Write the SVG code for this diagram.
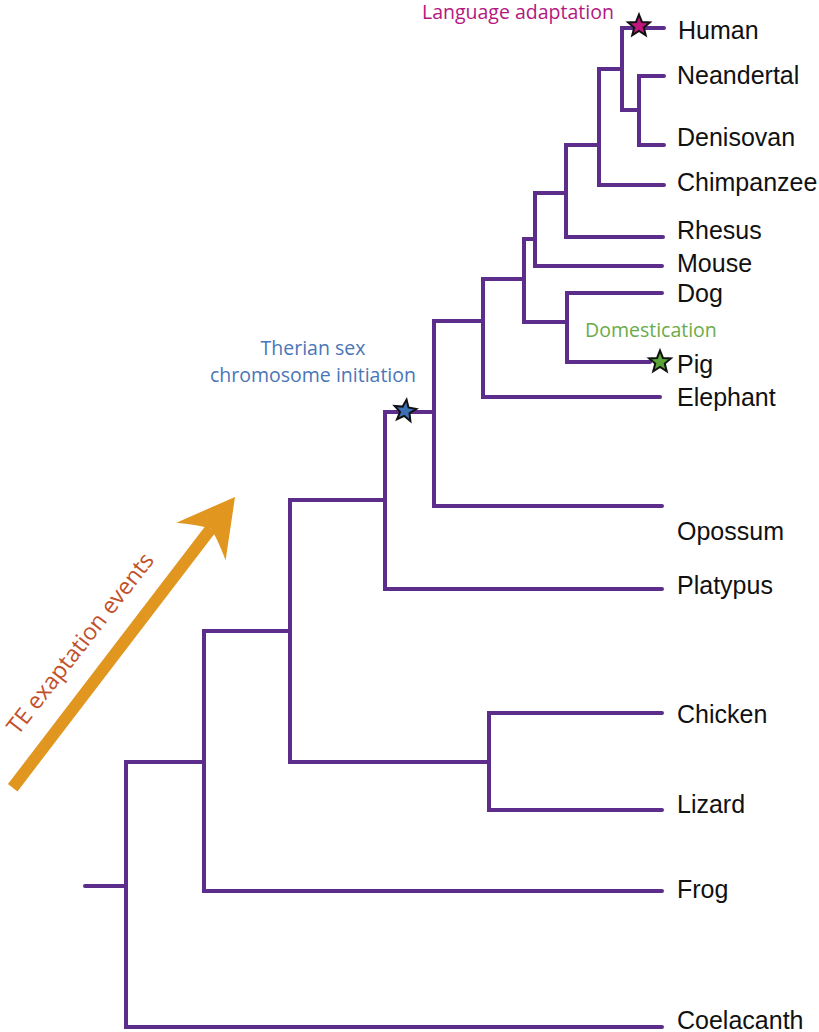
<svg xmlns="http://www.w3.org/2000/svg" xmlns:xlink="http://www.w3.org/1999/xlink" width="819" height="1032" viewBox="0 0 819 1032">
<style>
.br{fill:none;stroke:#5c2d8a;stroke-width:4;stroke-linecap:round;stroke-linejoin:miter}
.sp{font-family:"Liberation Sans",Arial,sans-serif;font-size:25px;fill:#111}
.ann{font-family:"Open Sans","Noto Sans",sans-serif;font-size:19.5px}
.star{stroke:#111;stroke-width:2;stroke-linejoin:miter}
</style>
<defs>
<path id="starShape" d="M0,-11.5 L2.94,-4.05 L10.94,-3.55 L4.76,1.55 L6.76,9.3 L0,5 L-6.76,9.3 L-4.76,1.55 L-10.94,-3.55 L-2.94,-4.05 Z"/>
</defs>
<rect width="819" height="1032" fill="#fff"/>
<g id="connectors">
<path class="br" d="M85,886 H126"/>
<path class="br" d="M662,1027 H126 V762 H204"/>
<path class="br" d="M662,891 H204 V631 H290"/>
<path class="br" d="M489,762 H290 V500 H385"/>
<path class="br" d="M662,713 H489 V810 H662"/>
<path class="br" d="M662,589 H385 V412 H434"/>
<path class="br" d="M662,506 H434 V321 H483"/>
<path class="br" d="M660,397 H483 V279 H524"/>
<path class="br" d="M567,322 H524 V239 H535"/>
<path class="br" d="M662,293 H567 V362 H650"/>
<path class="br" d="M662,266 H535 V193 H566"/>
<path class="br" d="M663,237 H566 V145 H599"/>
<path class="br" d="M664,185 H599 V69 H622"/>
<path class="br" d="M639,110 H622 V28 H664"/>
<path class="br" d="M664,76 H639 V145 H664"/>
</g>
<g id="node-human"><text class="sp" x="678" y="39">Human</text></g>
<g id="node-neandertal"><text class="sp" x="677" y="84">Neandertal</text></g>
<g id="node-denisovan"><text class="sp" x="677" y="146">Denisovan</text></g>
<g id="node-chimpanzee"><text class="sp" x="677" y="191">Chimpanzee</text></g>
<g id="node-rhesus"><text class="sp" x="677" y="239">Rhesus</text></g>
<g id="node-mouse"><text class="sp" x="677" y="272">Mouse</text></g>
<g id="node-dog"><text class="sp" x="677" y="302">Dog</text></g>
<g id="node-pig"><text class="sp" x="677" y="373">Pig</text></g>
<g id="node-elephant"><text class="sp" x="677" y="406">Elephant</text></g>
<g id="node-opossum"><text class="sp" x="677" y="540">Opossum</text></g>
<g id="node-platypus"><text class="sp" x="677" y="594">Platypus</text></g>
<g id="node-chicken"><text class="sp" x="677" y="723">Chicken</text></g>
<g id="node-lizard"><text class="sp" x="677" y="813">Lizard</text></g>
<g id="node-frog"><text class="sp" x="677" y="898">Frog</text></g>
<g id="node-coelacanth"><text class="sp" x="677" y="1029">Coelacanth</text></g>
<g id="event-language">
<use xlink:href="#starShape" class="star" fill="#c0177f" transform="translate(639,26)"/>
<text class="ann" x="422" y="19" fill="#b4177f">Language adaptation</text>
</g>
<g id="event-domestication">
<use xlink:href="#starShape" class="star" fill="#5ba336" transform="translate(660,362)"/>
<text class="ann" x="585" y="337" fill="#6aab4a">Domestication</text>
</g>
<g id="event-therian">
<use xlink:href="#starShape" class="star" fill="#3d6fb6" transform="translate(405,411) rotate(8)"/>
<text class="ann" x="313" y="355" text-anchor="middle" fill="#4a76b7">Therian sex</text>
<text class="ann" x="313" y="382" text-anchor="middle" fill="#4a76b7">chromosome initiation</text>
</g>
<g id="te-arrow">
<g transform="translate(235,497) rotate(-52.6)">
<line x1="-366" y1="0" x2="-40" y2="0" stroke="#e0961f" stroke-width="12"/>
<path d="M0,0 L-56,-31 Q-43,-10 -40,0 Q-43,10 -56,31 Z" fill="#e0961f"/>
</g>
<text transform="translate(18,736) rotate(-52)" font-family="'Open Sans','Noto Sans',sans-serif" font-size="23" fill="#c1512b">TE exaptation events</text>
</g>
</svg>
